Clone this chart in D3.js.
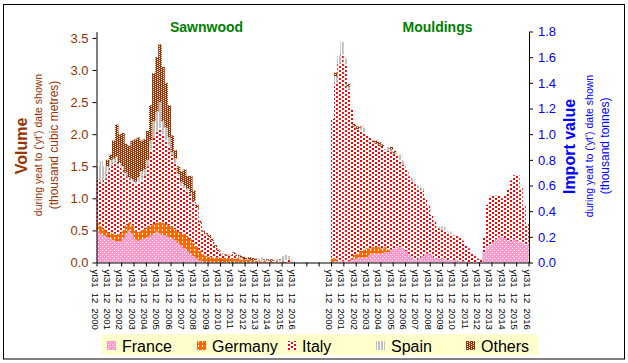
<!DOCTYPE html>
<html>
<head>
<meta charset="utf-8">
<script src="https://cdn.jsdelivr.net/npm/d3@7"></script>
<style>
  body { margin: 0; background: #fff; }
  svg { display: block; font-family: "Liberation Sans", Arial, sans-serif; }
</style>
</head>
<body>
<svg id="svg" width="628" height="363"></svg>
<script>
// quarterly values, Dec 2000 .. Dec 2016 (64 quarters per panel)
var seriesNames = ["France", "Germany", "Italy", "Spain", "Others"];

var yearLabels = ["yt31  12  2000", "yt31  12  2001", "yt31  12  2002", "yt31  12  2003", "yt31  12  2004",
  "yt31  12  2005", "yt31  12  2006", "yt31  12  2007", "yt31  12  2008", "yt31  12  2009", "yt31  12  2010",
  "yt31  12  2011", "yt31  12  2012", "yt31  12  2013", "yt31  12  2014", "yt31  12  2015", "yt31  12  2016"];

var leftTicks = [0, 0.5, 1, 1.5, 2, 2.5, 3, 3.5];
var rightTicks = [0, 0.2, 0.4, 0.6, 0.8, 1, 1.2, 1.4, 1.6, 1.8];

// Sawnwood (thousand m3)
var sawnFrance = [0.5,0.45,0.42,0.4, 0.38,0.35,0.33,0.33, 0.38,0.45,0.5,0.45, 0.36,0.34,0.36,0.38,
  0.4,0.42,0.45,0.48, 0.45,0.43,0.42,0.4, 0.38,0.35,0.3,0.27, 0.22,0.18,0.13,0.1,
  0.06,0.03,0.01,0, 0,0,0,0, 0,0,0,0, 0,0,0,0,
  0,0,0,0, 0,0,0,0, 0,0,0,0, 0,0,0,0];
var sawnGermany = [0.12,0.11,0.1,0.08, 0.08,0.1,0.1,0.12, 0.12,0.13,0.12,0.13, 0.14,0.14,0.14,0.14,
  0.15,0.16,0.15,0.14, 0.17,0.19,0.18,0.18, 0.17,0.17,0.18,0.18, 0.23,0.22,0.23,0.2,
  0.19,0.15,0.12,0.1, 0.09,0.08,0.08,0.08, 0.07,0.07,0.07,0.06, 0.06,0.06,0.05,0.05,
  0.04,0.04,0.03,0.03, 0.02,0.02,0.02,0.01, 0.01,0.01,0.01,0.01, 0.01,0,0,0];
var sawnItaly = [0.68,0.69,0.78,0.92, 1.04,1.1,1.15,1.05, 0.95,0.77,0.68,0.67, 0.72,0.77,0.78,0.83,
  0.95,1.17,1.35,1.43, 1.48,1.38,1.3,1.24, 1.13,1.03,0.87,0.75, 0.72,0.72,0.71,0.66,
  0.6,0.44,0.35,0.34, 0.31,0.26,0.16,0.1, 0.06,0.05,0.04,0.05, 0.09,0.04,0.03,0.02,
  0.01,0.01,0.01,0.01, 0.01,0.01,0.01,0.02, 0.02,0.02,0.01,0.01, 0.01,0.04,0.05,0.02];
var sawnSpain = [0.2,0.33,0.2,0.1, 0.1,0.07,0.07,0.05, 0.05,0.05,0.03,0.05, 0.04,0.08,0.14,0.1,
  0.1,0.15,0.25,0.3, 0.4,0.2,0.2,0.13, 0.04,0.07,0.03,0.05, 0.03,0.03,0.01,0,
  0,0,0,0, 0,0,0,0, 0,0,0,0, 0,0,0,0,
  0,0,0,0, 0.03,0.05,0.01,0, 0,0,0.03,0.02, 0.08,0.08,0.05,0.01];
var sawnOthers = [0,0,0,0.1, 0.08,0.28,0.5,0.45, 0.52,0.45,0.49,0.6, 0.66,0.62,0.48,0.47,
  0.45,0.55,0.75,0.85, 0.9,0.85,0.7,0.5, 0.26,0.13,0.12,0.17, 0.25,0.2,0.27,0.16,
  0.05,0.03,0.02,0.02, 0.03,0.03,0.03,0.02, 0.01,0.01,0.01,0.01, 0.01,0.02,0.03,0.02,
  0.02,0.03,0.03,0.02, 0,0,0.01,0.02, 0.02,0.01,0,0.01, 0,0,0,0];

// Mouldings (thousand tonnes, right axis)
var mouldFrance = [0,0.01,0.01,0.01, 0.01,0.01,0.02,0.03, 0.03,0.04,0.04,0.04, 0.06,0.07,0.07,0.07,
  0.07,0.08,0.08,0.1, 0.11,0.12,0.12,0.11, 0.09,0.06,0.03,0.02, 0.03,0.05,0.07,0.07,
  0.06,0.04,0.03,0.03, 0.03,0.02,0.02,0.02, 0.02,0.01,0.01,0.01, 0,0,0,0,
  0,0.08,0.12,0.14, 0.16,0.18,0.2,0.2, 0.19,0.17,0.17,0.18, 0.17,0.16,0.15,0.14];
var mouldGermany = [0.03,0.02,0,0, 0,0,0.01,0.03, 0.04,0.05,0.06,0.07, 0.05,0.05,0.05,0.05,
  0.04,0.04,0.02,0, 0,0,0,0, 0,0,0,0, 0,0,0,0,
  0,0,0,0, 0,0,0,0, 0,0,0,0, 0,0,0,0,
  0,0,0,0, 0,0,0,0, 0,0,0,0, 0,0,0,0];
var mouldItaly = [1.09,1.37,1.54,1.61, 1.54,1.34,1.17,1.0, 0.97,0.94,0.92,0.89, 0.87,0.83,0.81,0.8,
  0.79,0.76,0.77,0.76, 0.74,0.71,0.68,0.65, 0.63,0.61,0.6,0.59, 0.55,0.51,0.43,0.37,
  0.31,0.28,0.24,0.23, 0.22,0.22,0.2,0.19, 0.19,0.19,0.16,0.13, 0.11,0.07,0.05,0.03,
  0.02,0.12,0.33,0.38, 0.37,0.34,0.32,0.3, 0.33,0.41,0.47,0.5, 0.51,0.42,0.29,0.16];
var mouldSpain = [0,0.05,0.06,0.1, 0.04,0.02,0,0, 0,0.02,0.03,0, 0,0,0,0,
  0,0,0.03,0.02, 0,0,0.04,0.03, 0,0,0.02,0, 0.02,0.02,0,0,
  0,0,0,0.02, 0.03,0,0.02,0, 0,0,0,0, 0,0,0,0,
  0,0,0,0, 0,0,0,0, 0,0,0,0, 0,0,0,0];
var mouldOthers = [0,0.03,0,0, 0,0.02,0,0.02, 0.02,0.01,0,0, 0,0,0.02,0.02,
  0.02,0,0,0.02, 0.02,0,0,0, 0,0,0,0, 0,0,0,0,
  0,0,0,0, 0,0,0,0, 0,0,0,0, 0,0,0,0,
  0,0,0,0, 0,0,0,0, 0,0,0,0, 0,0,0,0];

var svg = d3.select("#svg");
var brown = "#993300", blue = "#0000FF";

// fill patterns
var defs = svg.append("defs");
function pattern(id, w, h, bg, rects, col) {
  var p = defs.append("pattern").attr("id", id).attr("patternUnits", "userSpaceOnUse")
    .attr("width", w).attr("height", h);
  p.append("rect").attr("width", w).attr("height", h).attr("fill", bg);
  rects.forEach(function (r) {
    p.append("rect").attr("x", r[0]).attr("y", r[1]).attr("width", r[2]).attr("height", r[3]).attr("fill", col);
  });
}
pattern("pat-France", 4, 4, "#FF99CC", [[0, 0, 1, 1], [2, 2, 1, 1]], "#fff");
pattern("pat-Germany", 4, 4, "#FF6600", [[2, 1, 1, 2]], "#fff");
pattern("pat-Italy", 6, 4, "#fff", [[0, 0, 2, 2], [3, 2, 2, 2]], "#FF0000");
pattern("pat-Spain", 3, 1, "#fff", [[0, 0, 2, 1]], "#C0C0C0");
pattern("pat-Others", 4, 2, "#fff", [[0, 0, 3, 1], [2, 1, 2, 1], [0, 1, 1, 1]], brown);

// frame
svg.append("rect").attr("x", 3.5).attr("y", 4.5).attr("width", 621).attr("height", 354.5)
  .attr("fill", "none").attr("stroke", "#000");

// scales: x in months, 35 years of axis (sawnwood, 3 year gap, mouldings)
var xMonth = d3.scaleLinear().domain([0, 420]).range([96.5, 528.5]);
var yLeft = d3.scaleLinear().domain([0, 3.6]).range([262.5, 31.5]);
var yRight = d3.scaleLinear().domain([0, 1.8]).range([262.5, 31.5]);

function drawPanel(rows, offset, yScale) {
  var data = rows[0].map(function (v, i) {
    var o = { q: i };
    seriesNames.forEach(function (n, k) { o[n] = rows[k][i]; });
    return o;
  });
  var stacked = d3.stack().keys(seriesNames)(data);
  svg.append("g").selectAll("g")
    .data(stacked)
    .enter()
    .append("g")
    .attr("fill", (d) => "url(#pat-" + d.key + ")")
    .selectAll("rect")
    .data((d) => d)
    .enter()
    .append("rect")
    .attr("x", (d) => xMonth(offset + d.data.q * 3))
    .attr("width", (d) => xMonth(offset + d.data.q * 3 + 3) - xMonth(offset + d.data.q * 3) + 0.4)
    .attr("y", (d) => yScale(d[1]))
    .attr("height", (d) => Math.max(0, yScale(d[0]) - yScale(d[1])));
}

drawPanel([sawnFrance, sawnGermany, sawnItaly, sawnSpain, sawnOthers], 0, yLeft);
drawPanel([mouldFrance, mouldGermany, mouldItaly, mouldSpain, mouldOthers], 19 * 12, yRight);

// axes
var leftAxis = svg.append("g")
  .attr("transform", "translate(96.5,0)")
  .call(d3.axisLeft(yLeft).tickValues(leftTicks).tickSize(4).tickSizeOuter(0).tickPadding(4)
    .tickFormat(d3.format(".1f")));
leftAxis.selectAll("text").attr("fill", brown).style("font-size", "13px");

var rightAxis = svg.append("g")
  .attr("transform", "translate(529,0)")
  .call(d3.axisRight(yRight).tickValues(rightTicks).tickSize(4).tickSizeOuter(0).tickPadding(5)
    .tickFormat(d3.format(".1f")));
rightAxis.selectAll("text").attr("fill", blue).style("font-size", "13px");

svg.append("g")
  .attr("transform", "translate(0,262.5)")
  .call(d3.axisBottom(xMonth).tickValues(d3.range(0, 421, 12)).tickSize(4).tickSizeOuter(0).tickFormat(""));

svg.selectAll("path.domain").attr("stroke", "#000");
svg.selectAll(".tick line").attr("stroke", "#000");

// category labels
[0, 19 * 12].forEach(function (offset) {
  yearLabels.forEach(function (t, k) {
    var x = xMonth(offset + k * 12) - 1.5;
    svg.append("text")
      .attr("transform", "translate(" + x + ",269.5) rotate(90)")
      .attr("dominant-baseline", "central")
      .style("font-size", "9.5px")
      .style("white-space", "pre")
      .attr("fill", "#000")
      .text(t);
  });
});

// panel titles
svg.append("text").attr("x", 206.5).attr("y", 31.5).attr("text-anchor", "middle")
  .style("font-size", "14px").style("font-weight", "bold").attr("fill", "#008000").text("Sawnwood");
svg.append("text").attr("x", 437.5).attr("y", 31.5).attr("text-anchor", "middle")
  .style("font-size", "14px").style("font-weight", "bold").attr("fill", "#008000").text("Mouldings");

// axis titles
function vText(x, y, size, bold, color, t) {
  svg.append("text")
    .attr("transform", "translate(" + x + "," + y + ") rotate(-90)")
    .attr("text-anchor", "middle")
    .attr("dominant-baseline", "central")
    .style("font-size", size + "px")
    .style("font-weight", bold ? "bold" : "normal")
    .attr("fill", color)
    .text(t);
}
vText(21, 146, 16, true, brown, "Volume");
vText(37.5, 145, 10.5, false, brown, "during yeat to ('yt') date shown");
vText(54, 145, 12, false, brown, "(thousand cubic metres)");
vText(569, 146.5, 16, true, blue, "Import value");
vText(588.5, 146, 10.5, false, blue, "during yeat to ('yt') date shown");
vText(605, 146, 12, false, blue, "(thousand tonnes)");

// legend
svg.append("rect").attr("x", 101.5).attr("y", 334).attr("width", 437).attr("height", 21).attr("fill", "#FFFFCC");
var legendX = [107, 197, 287, 376, 466];
seriesNames.forEach(function (n, i) {
  svg.append("rect").attr("x", legendX[i]).attr("y", 341).attr("width", 9).attr("height", 9)
    .attr("fill", "url(#pat-" + n + ")");
  svg.append("text").attr("x", legendX[i] + 15).attr("y", 351.5)
    .style("font-size", "16px").attr("fill", "#000").text(n);
});
</script>
</body>
</html>
